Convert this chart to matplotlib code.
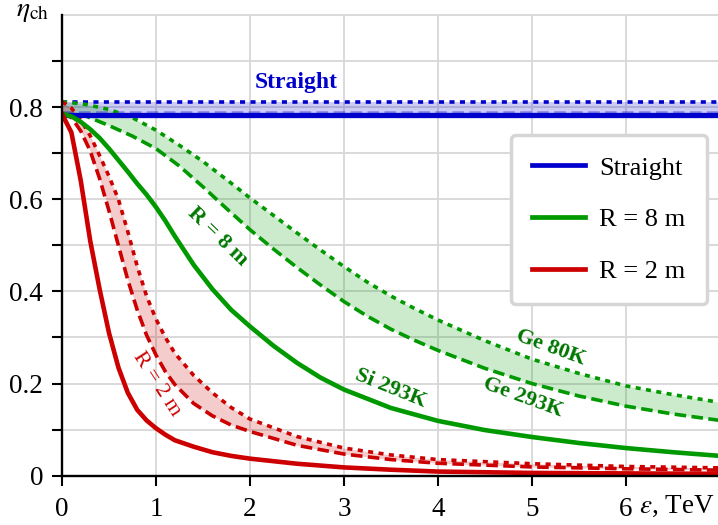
import matplotlib
matplotlib.use('Agg')
import matplotlib.pyplot as plt
from matplotlib.lines import Line2D
from matplotlib.ticker import FixedLocator, FixedFormatter

plt.rcParams['font.family'] = ['Liberation Serif', 'DejaVu Serif']
plt.rcParams['mathtext.fontset'] = 'stix'

# ---------------- data ----------------
x_straight = [0, 7]
straight_si = [0.784, 0.784]
straight_ge293 = [0.787, 0.787]
straight_ge80 = [0.812, 0.812]

x_r2 = [0, 0.1, 0.2, 0.3, 0.4, 0.5, 0.6, 0.7, 0.8, 0.9, 1.0, 1.1, 1.2, 1.4, 1.6,
        1.8, 2.0, 2.5, 3.0, 3.5, 4.0, 5.0, 6.0, 7.0]
r2_si = [0.785, 0.745, 0.64, 0.51, 0.405, 0.31, 0.235, 0.18, 0.143, 0.12, 0.103,
         0.089, 0.077, 0.063, 0.051, 0.043, 0.037, 0.026, 0.018, 0.013, 0.009,
         0.006, 0.005, 0.004]
r2_ge293 = [0.785, 0.778, 0.748, 0.705, 0.645, 0.575, 0.50, 0.425, 0.36, 0.305,
            0.262, 0.226, 0.198, 0.157, 0.13, 0.11, 0.096, 0.066, 0.047, 0.035,
            0.027, 0.019, 0.015, 0.012]
r2_ge80 = [0.812, 0.798, 0.772, 0.738, 0.695, 0.65, 0.60, 0.53, 0.455, 0.39,
           0.34, 0.30, 0.266, 0.218, 0.18, 0.148, 0.123, 0.085, 0.06, 0.045,
           0.035, 0.026, 0.02, 0.017]

x_r8_si = [0, 0.1, 0.2, 0.3, 0.4, 0.5, 0.6, 0.7, 0.8, 0.9, 1.0, 1.1, 1.2, 1.4,
           1.6, 1.8, 2.0, 2.25, 2.5, 2.75, 3.0, 3.5, 4.0, 4.5, 5.0, 5.5, 6.0,
           6.5, 7.0]
r8_si = [0.785, 0.78, 0.768, 0.752, 0.733, 0.71, 0.685, 0.66, 0.634, 0.61, 0.583,
         0.553, 0.52, 0.458, 0.405, 0.36, 0.324, 0.282, 0.245, 0.213, 0.187,
         0.147, 0.119, 0.099, 0.084, 0.071, 0.060, 0.051, 0.043]

x_r8 = [0, 0.25, 0.5, 0.75, 1.0, 1.25, 1.5, 1.75, 2.0, 2.25, 2.5, 2.75, 3.0,
        3.25, 3.5, 3.75, 4.0, 4.5, 5.0, 5.5, 6.0, 6.5, 7.0]
r8_ge293 = [0.785, 0.781, 0.76, 0.737, 0.71, 0.672, 0.627, 0.58, 0.534, 0.492,
            0.452, 0.414, 0.378, 0.346, 0.318, 0.294, 0.272, 0.233, 0.20, 0.173,
            0.151, 0.134, 0.12]
r8_ge80 = [0.812, 0.806, 0.795, 0.777, 0.75, 0.717, 0.682, 0.643, 0.603, 0.565,
           0.527, 0.49, 0.454, 0.42, 0.39, 0.363, 0.338, 0.293, 0.253, 0.222,
           0.195, 0.176, 0.159]

x_ticks = [0, 1, 2, 3, 4, 5, 6]
x_ticklabels = ['0', '1', '2', '3', '4', '5', '6']
y_ticks = [0, 0.2, 0.4, 0.6, 0.8]
y_ticklabels = ['0', '0.2', '0.4', '0.6', '0.8']
y_minor = [0.1, 0.3, 0.5, 0.7, 0.9]
legend_labels = ['Straight', 'R = 8 m', 'R = 2 m']

# ---------------- style ----------------
BLUE = '#0000cc'
GREEN = '#009900'
RED = '#cc0000'
DGREEN = '#007700'
GRID = '#d9d9d9'

fig = plt.figure(figsize=(7.18, 5.25), dpi=100)
ax = fig.add_axes([62 / 718, 49.3 / 525, 656 / 718, 460.7 / 525])
ax.set_xlim(0, 6.98)
ax.set_ylim(0, 1.0)

ax.xaxis.set_major_locator(FixedLocator(x_ticks))
ax.xaxis.set_major_formatter(FixedFormatter(x_ticklabels))
ax.yaxis.set_major_locator(FixedLocator(y_ticks))
ax.yaxis.set_major_formatter(FixedFormatter(y_ticklabels))
ax.yaxis.set_minor_locator(FixedLocator(y_minor))
ax.grid(True, which='both', color=GRID, lw=1.4, zorder=0)
ax.axhline(1.0, color=GRID, lw=1.4, clip_on=False, zorder=0)
ax.set_axisbelow(True)

for s in ['top', 'right']:
    ax.spines[s].set_visible(False)
for s in ['left', 'bottom']:
    ax.spines[s].set_linewidth(1.7)
    ax.spines[s].set_zorder(10)
ax.tick_params(axis='both', which='both', direction='out', length=7, width=1.5,
               labelsize=19.5)
ax.tick_params(axis='x', pad=8)
ax.tick_params(axis='y', pad=6.5)

dash = (0, (3.2, 1.5))
dot = (0, (1.4, 1.5))
LW_S = 3.3
LW_D = 2.6

# bands
ax.fill_between(x_straight, straight_ge293, straight_ge80, color=BLUE, alpha=0.2, lw=0, zorder=1)
ax.fill_between(x_r8, r8_ge293, r8_ge80, color=GREEN, alpha=0.2, lw=0, zorder=1)
ax.fill_between(x_r2, r2_ge293, r2_ge80, color=RED, alpha=0.2, lw=0, zorder=1)

# dashed / dotted
ax.plot(x_straight, straight_ge293, color=BLUE, lw=LW_D, ls=dash, alpha=0.35, zorder=3)
ax.plot(x_straight, straight_ge80, color=BLUE, lw=LW_D, ls=dot, zorder=3)
ax.plot(x_r8, r8_ge293, color=GREEN, lw=LW_D, ls=dash, zorder=3)
ax.plot(x_r8, r8_ge80, color=GREEN, lw=LW_D, ls=dot, zorder=3)
ax.plot(x_r2, r2_ge293, color=RED, lw=LW_D, ls=dash, zorder=3)
ax.plot(x_r2, r2_ge80, color=RED, lw=LW_D, ls=dot, zorder=3)

# solids
ax.plot(x_straight, straight_si, color=BLUE, lw=3.8, zorder=4)
ax.plot(x_r8_si, r8_si, color=GREEN, lw=LW_S, zorder=4)
ax.plot(x_r2, r2_si, color=RED, lw=LW_S, zorder=4)

# in-plot labels
ax.text(2.49, 0.853, 'Straight', color=BLUE, fontsize=17, fontweight='bold',
        ha='center', va='center', zorder=6)
ax.text(1.66, 0.519, 'R = 8 m', color=DGREEN, fontsize=16, fontweight='bold',
        ha='center', va='center', rotation=-44, rotation_mode='anchor', zorder=6)
ax.text(1.01, 0.20, 'R = 2 m', color=RED, fontsize=16,
        ha='center', va='center', rotation=-57, rotation_mode='anchor', zorder=6)
ax.text(3.5, 0.19, 'Si 293K', color=DGREEN, fontsize=16, fontweight='bold',
        ha='center', va='center', rotation=-22, rotation_mode='anchor', zorder=6)
ax.text(5.2, 0.279, 'Ge 80K', color=DGREEN, fontsize=16, fontweight='bold',
        ha='center', va='center', rotation=-20, rotation_mode='anchor', zorder=6)
ax.text(4.9, 0.169, 'Ge 293K', color=DGREEN, fontsize=16, fontweight='bold',
        ha='center', va='center', rotation=-20, rotation_mode='anchor', zorder=6)

# legend
handles = [Line2D([], [], color=BLUE, lw=3.4),
           Line2D([], [], color=GREEN, lw=3.4),
           Line2D([], [], color=RED, lw=3.4)]
leg = ax.legend(handles, legend_labels, loc='upper right',
                bbox_to_anchor=(0.983, 0.7395), borderaxespad=0, fontsize=19,
                handlelength=2.0, handletextpad=0.55, labelspacing=1.07,
                borderpad=0.8, fancybox=True, framealpha=1, facecolor='white',
                edgecolor='#d6d6d6')
leg.get_frame().set_linewidth(2.5)
leg.set_zorder(20)

# axis labels
fig.text(33 / 718, 1 - 12 / 525, r'$\eta_{\rm ch}$', fontsize=20,
         ha='center', va='center')
fig.text(639 / 718, 1 - 512.7 / 525, r'$\varepsilon$, TeV', fontsize=19.5,
         ha='left', va='baseline')

fig.savefig('out.png', dpi=100)
